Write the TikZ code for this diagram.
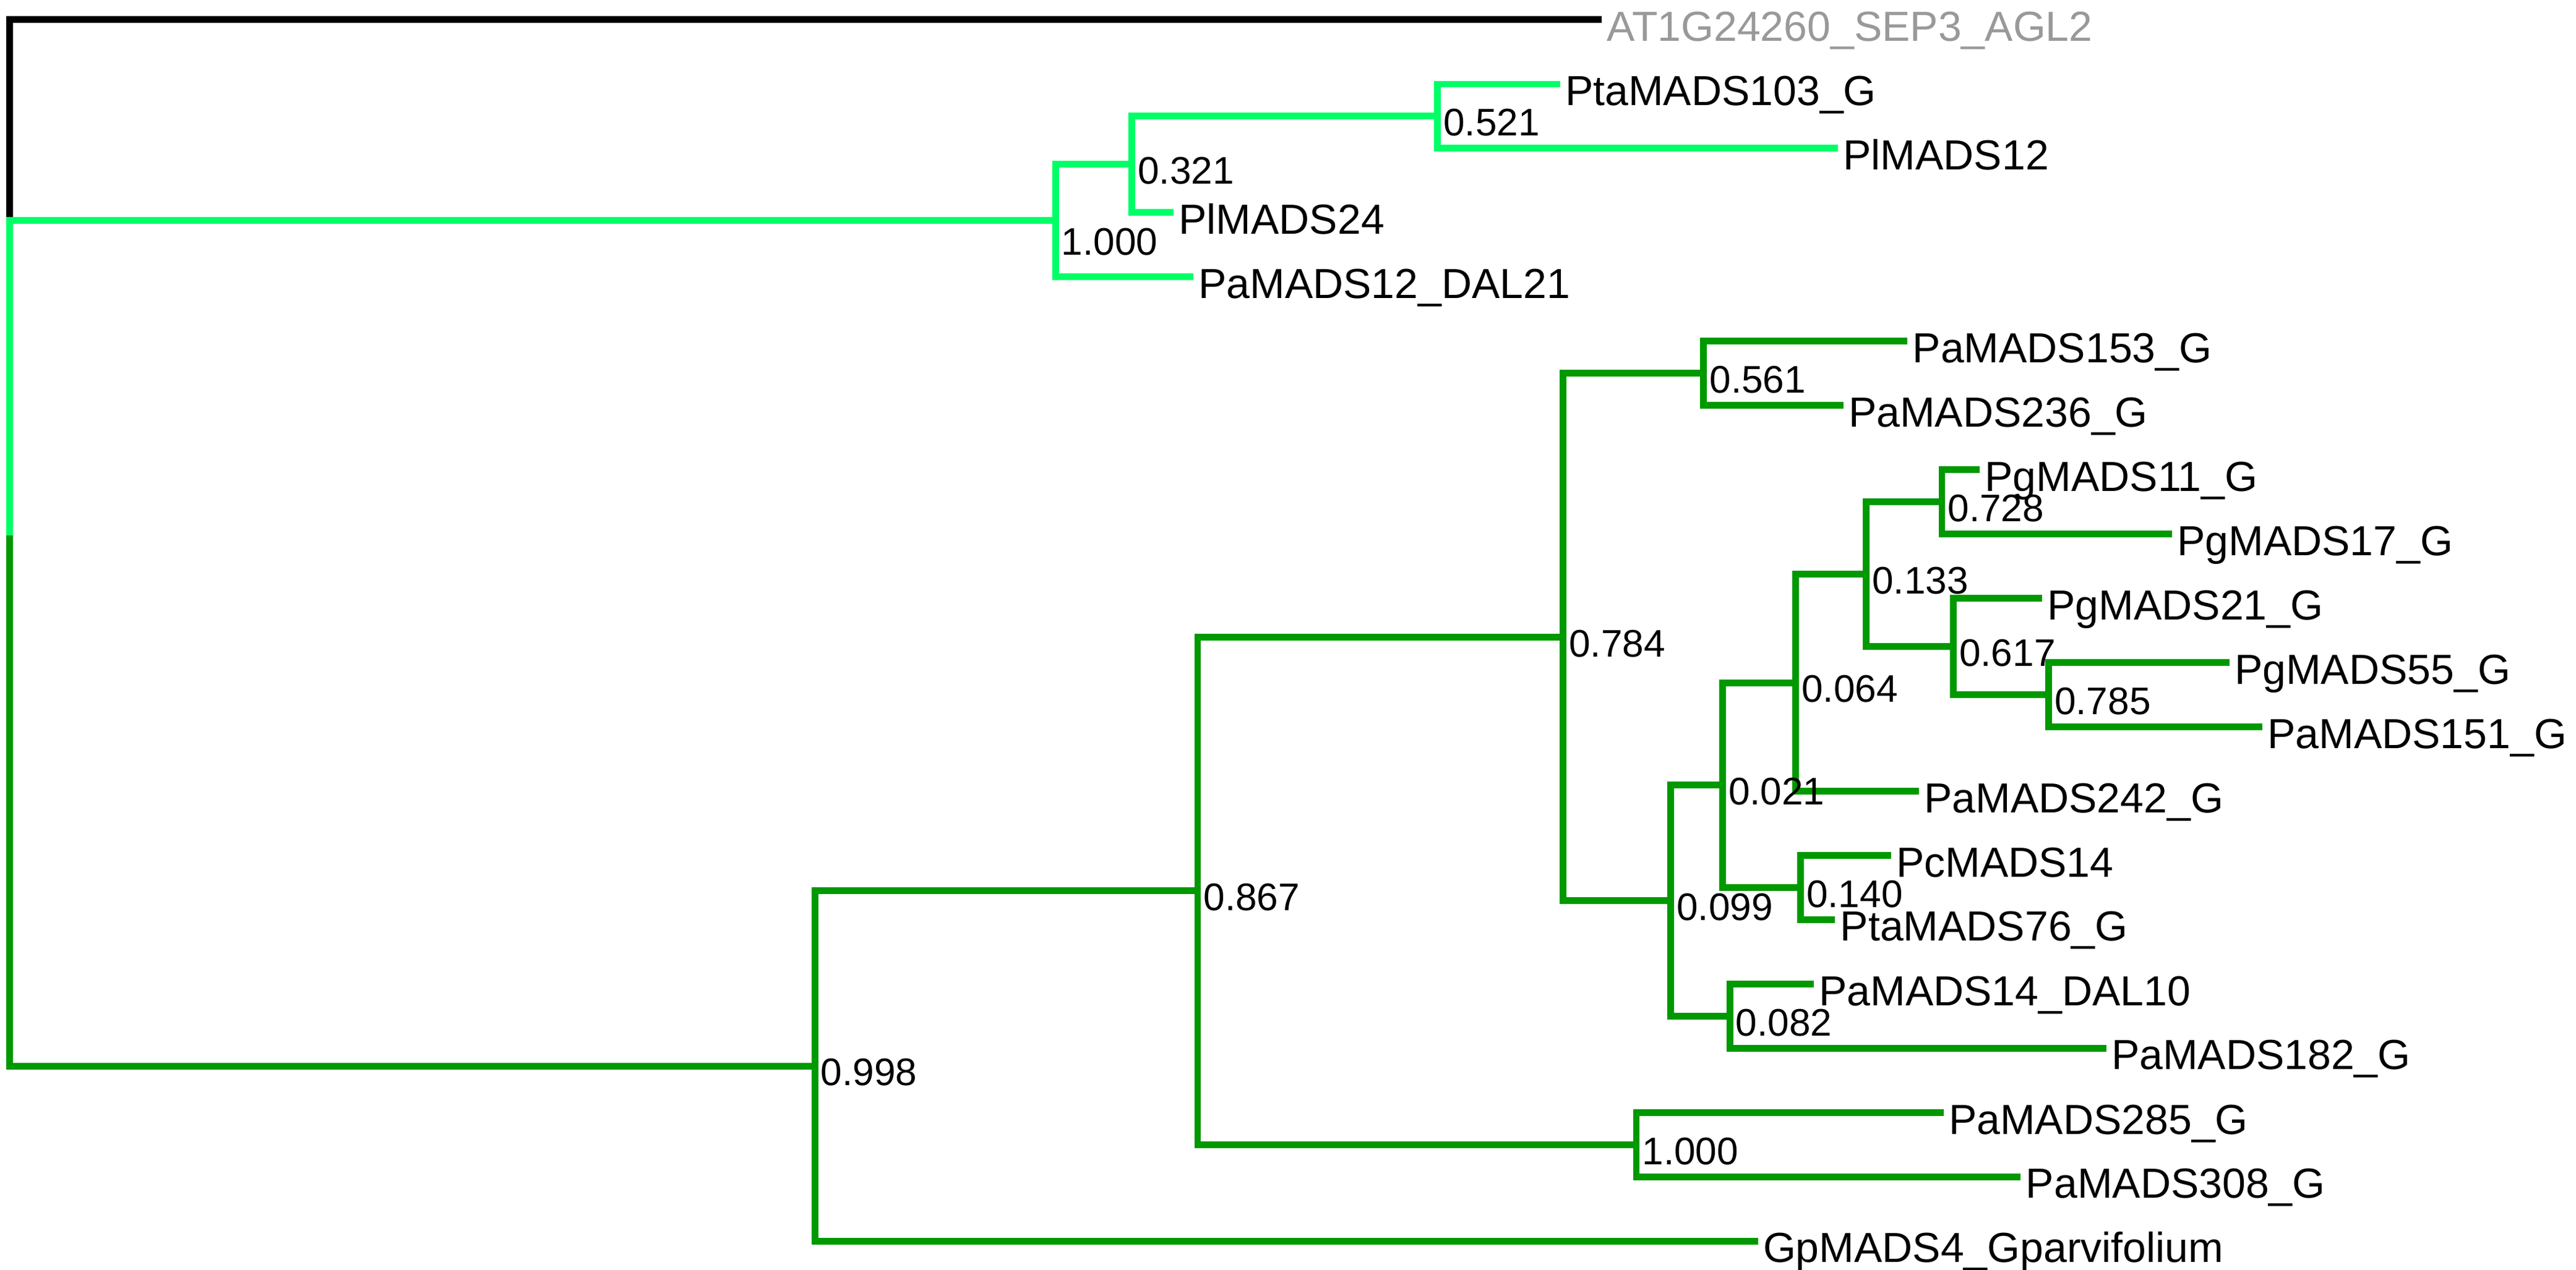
\documentclass[tikz,border=0pt]{standalone}
\usepackage{fontspec}
\setmainfont{Liberation Sans}
\usepackage{tikz}
\definecolor{lightclade}{RGB}{0,255,102}
\definecolor{darkclade}{RGB}{0,153,0}
\definecolor{outgray}{RGB}{153,153,153}
\tikzstyle{hbranch} = [line width=2.05pt]
\tikzstyle{vbranch} = [line width=2.05pt, line cap=rect]
\tikzstyle{leaf} = [anchor=base west, inner sep=0pt, xshift=1.4pt, yshift=-6.5pt, font=\fontsize{12.8}{14}\selectfont]
\tikzstyle{support} = [anchor=base west, inner sep=0pt, xshift=1.6pt, yshift=-6pt, font=\fontsize{11.7}{13}\selectfont]

\begin{document}
\begin{tikzpicture}[x=0.5pt, y=-0.5pt]
        \useasboundingbox (0,0) rectangle (1568,773.4);

        % inner nodes
        \coordinate (root) at (6,328);
        \coordinate (u1000) at (642.5,134.35);
        \coordinate (u321) at (689,100.1);
        \coordinate (u521) at (875,70.75);
        \coordinate (n998) at (496,649.2);
        \coordinate (n867) at (729,542.5);
        \coordinate (n784) at (951.5,387.9);
        \coordinate (n561) at (1037,227.35);
        \coordinate (n099) at (1017,548.5);
        \coordinate (n021) at (1048.5,478.15);
        \coordinate (n064) at (1093,415.75);
        \coordinate (n133) at (1136,349.7);
        \coordinate (n728) at (1182,305.65);
        \coordinate (n617) at (1189,393.75);
        \coordinate (n785) at (1247,423.1);
        \coordinate (n140) at (1096,540.55);
        \coordinate (n082) at (1053,618.85);
        \coordinate (n1000) at (996,697.15);

        % leaves
        \coordinate (at1g) at (975,12);
        \coordinate (pta103) at (949.6,51.2);
        \coordinate (pl12) at (1118.7,90.3);
        \coordinate (pl24) at (714.3,129.5);
        \coordinate (pa12) at (726.3,168.6);
        \coordinate (pa153) at (1161,207.8);
        \coordinate (pa236) at (1122,246.9);
        \coordinate (pg11) at (1205,286.1);
        \coordinate (pg17) at (1322,325.2);
        \coordinate (pg21) at (1243,364.4);
        \coordinate (pg55) at (1357,403.5);
        \coordinate (pa151) at (1377,442.7);
        \coordinate (pa242) at (1168,481.8);
        \coordinate (pc14) at (1151,521);
        \coordinate (pta76) at (1117,560.1);
        \coordinate (pa14) at (1104,599.3);
        \coordinate (pa182) at (1282,638.4);
        \coordinate (pa285) at (1183,677.6);
        \coordinate (pa308) at (1230,716.7);
        \coordinate (gp4) at (1070,755.9);

        % root
        \draw[vbranch] (root |- at1g) -- (root |- u1000);
        \draw[vbranch, lightclade] (root |- u1000) -- (root);
        \draw[vbranch, darkclade] (root) -- (root |- n998);
        \draw[hbranch] (root |- at1g) -- (at1g);
        \draw[hbranch, lightclade] (root |- u1000) -- (u1000);
        \draw[hbranch, darkclade] (root |- n998) -- (n998);

        % light green clade
        \draw[vbranch, lightclade] (u1000 |- u321) -- (u1000 |- pa12);
        \draw[hbranch, lightclade] (u1000 |- u321) -- (u321);
        \draw[hbranch, lightclade] (u1000 |- pa12) -- (pa12);
        \draw[vbranch, lightclade] (u321 |- u521) -- (u321 |- pl24);
        \draw[hbranch, lightclade] (u321 |- u521) -- (u521);
        \draw[hbranch, lightclade] (u321 |- pl24) -- (pl24);
        \draw[vbranch, lightclade] (u521 |- pta103) -- (u521 |- pl12);
        \draw[hbranch, lightclade] (u521 |- pta103) -- (pta103);
        \draw[hbranch, lightclade] (u521 |- pl12) -- (pl12);

        % dark green clade
        \draw[vbranch, darkclade] (n998 |- n867) -- (n998 |- gp4);
        \draw[hbranch, darkclade] (n998 |- n867) -- (n867);
        \draw[hbranch, darkclade] (n998 |- gp4) -- (gp4);
        \draw[vbranch, darkclade] (n867 |- n784) -- (n867 |- n1000);
        \draw[hbranch, darkclade] (n867 |- n784) -- (n784);
        \draw[hbranch, darkclade] (n867 |- n1000) -- (n1000);
        \draw[vbranch, darkclade] (n784 |- n561) -- (n784 |- n099);
        \draw[hbranch, darkclade] (n784 |- n561) -- (n561);
        \draw[hbranch, darkclade] (n784 |- n099) -- (n099);
        \draw[vbranch, darkclade] (n561 |- pa153) -- (n561 |- pa236);
        \draw[hbranch, darkclade] (n561 |- pa153) -- (pa153);
        \draw[hbranch, darkclade] (n561 |- pa236) -- (pa236);
        \draw[vbranch, darkclade] (n099 |- n021) -- (n099 |- n082);
        \draw[hbranch, darkclade] (n099 |- n021) -- (n021);
        \draw[hbranch, darkclade] (n099 |- n082) -- (n082);
        \draw[vbranch, darkclade] (n021 |- n064) -- (n021 |- n140);
        \draw[hbranch, darkclade] (n021 |- n064) -- (n064);
        \draw[hbranch, darkclade] (n021 |- n140) -- (n140);
        \draw[vbranch, darkclade] (n064 |- n133) -- (n064 |- pa242);
        \draw[hbranch, darkclade] (n064 |- n133) -- (n133);
        \draw[hbranch, darkclade] (n064 |- pa242) -- (pa242);
        \draw[vbranch, darkclade] (n133 |- n728) -- (n133 |- n617);
        \draw[hbranch, darkclade] (n133 |- n728) -- (n728);
        \draw[hbranch, darkclade] (n133 |- n617) -- (n617);
        \draw[vbranch, darkclade] (n728 |- pg11) -- (n728 |- pg17);
        \draw[hbranch, darkclade] (n728 |- pg11) -- (pg11);
        \draw[hbranch, darkclade] (n728 |- pg17) -- (pg17);
        \draw[vbranch, darkclade] (n617 |- pg21) -- (n617 |- n785);
        \draw[hbranch, darkclade] (n617 |- pg21) -- (pg21);
        \draw[hbranch, darkclade] (n617 |- n785) -- (n785);
        \draw[vbranch, darkclade] (n785 |- pg55) -- (n785 |- pa151);
        \draw[hbranch, darkclade] (n785 |- pg55) -- (pg55);
        \draw[hbranch, darkclade] (n785 |- pa151) -- (pa151);
        \draw[vbranch, darkclade] (n140 |- pc14) -- (n140 |- pta76);
        \draw[hbranch, darkclade] (n140 |- pc14) -- (pc14);
        \draw[hbranch, darkclade] (n140 |- pta76) -- (pta76);
        \draw[vbranch, darkclade] (n082 |- pa14) -- (n082 |- pa182);
        \draw[hbranch, darkclade] (n082 |- pa14) -- (pa14);
        \draw[hbranch, darkclade] (n082 |- pa182) -- (pa182);
        \draw[vbranch, darkclade] (n1000 |- pa285) -- (n1000 |- pa308);
        \draw[hbranch, darkclade] (n1000 |- pa285) -- (pa285);
        \draw[hbranch, darkclade] (n1000 |- pa308) -- (pa308);

        % leaf names
        \node[leaf, text=outgray] (tat1g) at (at1g) {AT1G24260\_SEP3\_AGL2};
        \node[leaf] (tpta103) at (pta103) {PtaMADS103\_G};
        \node[leaf] (tpl12) at (pl12) {PlMADS12};
        \node[leaf] (tpl24) at (pl24) {PlMADS24};
        \node[leaf] (tpa12) at (pa12) {PaMADS12\_DAL21};
        \node[leaf] (tpa153) at (pa153) {PaMADS153\_G};
        \node[leaf] (tpa236) at (pa236) {PaMADS236\_G};
        \node[leaf] (tpg11) at (pg11) {PgMADS11\_G};
        \node[leaf] (tpg17) at (pg17) {PgMADS17\_G};
        \node[leaf] (tpg21) at (pg21) {PgMADS21\_G};
        \node[leaf] (tpg55) at (pg55) {PgMADS55\_G};
        \node[leaf] (tpa151) at (pa151) {PaMADS151\_G};
        \node[leaf] (tpa242) at (pa242) {PaMADS242\_G};
        \node[leaf] (tpc14) at (pc14) {PcMADS14};
        \node[leaf] (tpta76) at (pta76) {PtaMADS76\_G};
        \node[leaf] (tpa14) at (pa14) {PaMADS14\_DAL10};
        \node[leaf] (tpa182) at (pa182) {PaMADS182\_G};
        \node[leaf] (tpa285) at (pa285) {PaMADS285\_G};
        \node[leaf] (tpa308) at (pa308) {PaMADS308\_G};
        \node[leaf] (tgp4) at (gp4) {GpMADS4\_Gparvifolium};

        % support values
        \node[support, yshift=-4.5pt] (su1000) at (u1000) {1.000};
        \node[support] (su321) at (u321) {0.321};
        \node[support] (su521) at (u521) {0.521};
        \node[support] (s998) at (n998) {0.998};
        \node[support] (s867) at (n867) {0.867};
        \node[support] (s784) at (n784) {0.784};
        \node[support] (s561) at (n561) {0.561};
        \node[support] (s099) at (n099) {0.099};
        \node[support] (s021) at (n021) {0.021};
        \node[support] (s064) at (n064) {0.064};
        \node[support] (s133) at (n133) {0.133};
        \node[support] (s728) at (n728) {0.728};
        \node[support] (s617) at (n617) {0.617};
        \node[support] (s785) at (n785) {0.785};
        \node[support] (s140) at (n140) {0.140};
        \node[support] (s082) at (n082) {0.082};
        \node[support] (s1000) at (n1000) {1.000};

      \end{tikzpicture}
\end{document}
